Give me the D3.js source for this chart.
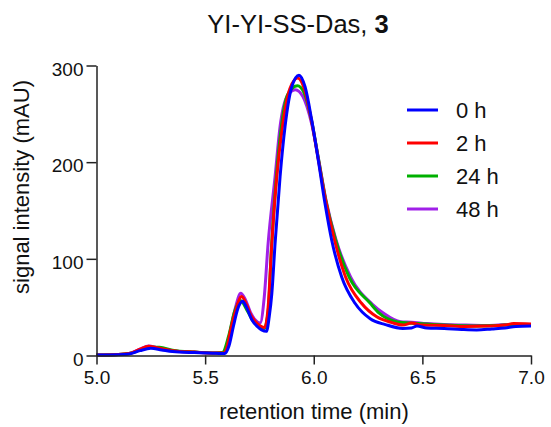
<!DOCTYPE html>
<html>
<head>
<meta charset="utf-8">
<script src="https://cdn.jsdelivr.net/npm/d3@7"></script>
<style>
  body { margin: 0; background: #fff; }
  svg { display: block; font-family: "Liberation Sans", Arial, sans-serif; }
  .axis path, .axis line { stroke: #222; stroke-width: 1.5px; }
  .axis text { fill: #111; font-size: 19px; }
</style>
</head>
<body>
<svg id="chart" width="551" height="427"></svg>
<script>
// x ticks / y ticks
const xTicks = [5.0, 5.5, 6.0, 6.5, 7.0];
const yTicks = [0, 100, 200, 300];
const labels = ['0 h', '2 h', '24 h', '48 h'];

// retention time (min) and signal (mAU)
const time0h = [5.00, 5.10, 5.15, 5.20, 5.25, 5.30, 5.35, 5.45, 5.55, 5.59, 5.61, 5.63, 5.65, 5.673, 5.69, 5.715, 5.74, 5.76, 5.782,
  5.795, 5.807, 5.822, 5.845, 5.868, 5.899, 5.932, 5.96, 5.991, 6.021, 6.052, 6.083, 6.129, 6.19, 6.26, 6.33, 6.41, 6.45, 6.475,
  6.52, 6.60, 6.68, 6.75, 6.82, 6.88, 6.93, 7.00];
const sig0h = [0.5, 0.8, 1.5, 5, 7.4, 5.8, 4.2, 3, 2.3, 2, 10, 30, 48, 56, 50, 37, 30, 26.5, 25,
  40, 64, 116, 185, 237, 278, 290, 278, 243, 202, 157, 119, 81, 54, 38, 32, 28, 28.5, 30.5,
  28.5, 28, 27, 26.5, 27.5, 28.5, 30, 30.5];

const time2h = [5.00, 5.10, 5.15, 5.20, 5.24, 5.28, 5.35, 5.45, 5.55, 5.585, 5.60, 5.616, 5.64, 5.668, 5.69, 5.71, 5.74, 5.774,
  5.79, 5.807, 5.83, 5.856, 5.89, 5.926, 5.955, 5.988, 6.02, 6.055, 6.095, 6.147, 6.22, 6.29, 6.36, 6.41, 6.45, 6.50,
  6.60, 6.70, 6.80, 6.88, 6.92, 7.00];
const sig2h = [0.5, 1, 2, 6.5, 9.5, 8, 5, 3.5, 2.5, 2.5, 8, 25, 46, 61, 53, 42, 33, 29,
  50, 116, 185, 237, 276, 287, 277, 245, 204, 160, 120, 81, 54, 40, 34, 31.5, 33.5, 31.5,
  31, 30, 30.5, 31.5, 33, 32.5];

const time24h = [5.00, 5.10, 5.15, 5.20, 5.25, 5.29, 5.35, 5.45, 5.55, 5.58, 5.608, 5.635, 5.663, 5.69, 5.72, 5.75, 5.772,
  5.79, 5.805, 5.826, 5.85, 5.88, 5.925, 5.955, 5.99, 6.022, 6.055, 6.10, 6.163, 6.26, 6.30, 6.38, 6.42, 6.48,
  6.55, 6.65, 6.75, 6.85, 6.92, 7.00];
const sig24h = [0.5, 1, 2, 5.5, 8.5, 8.5, 5.5, 3.5, 2.5, 3, 20, 45, 57, 48, 36, 30, 28,
  45, 110, 180, 235, 270, 279, 272, 243, 203, 161, 120, 81, 54, 44, 35, 34, 33,
  32, 31, 30.5, 31, 32, 32];

const time48h = [5.00, 5.10, 5.15, 5.20, 5.24, 5.28, 5.35, 5.45, 5.55, 5.585, 5.60, 5.62, 5.64, 5.664, 5.685, 5.71, 5.73, 5.753,
  5.772, 5.79, 5.822, 5.845, 5.877, 5.915, 5.95, 5.99, 6.023, 6.057, 6.102, 6.17, 6.27, 6.32, 6.40, 6.45, 6.52,
  6.60, 6.70, 6.80, 6.90, 7.00];
const sig48h = [0.5, 1, 2, 6.5, 9.8, 8, 5, 3.5, 2.5, 3, 9, 30, 50, 64.5, 58, 44, 37, 33.5,
  60, 116, 185, 237, 268, 275, 268, 240, 202, 160, 120, 81, 53, 44, 35, 34.5, 33,
  32, 31.5, 31, 32, 32];

const cs = {
  margin: { left: 96.5, right: 20, top: 65.5, bottom: 71.5 },
  palette: ['#0000ff', '#ff0000', '#00b000', '#a020e8'],
  stroke: 3,
};

const svg = d3.select('#chart');
const width = +svg.attr('width');
const height = +svg.attr('height');

const x = d3.scaleLinear().domain([5, 7]).range([cs.margin.left, width - cs.margin.right]);
const y = d3.scaleLinear().domain([0, 300]).range([height - cs.margin.bottom, cs.margin.top]);

const traces = [
  { label: labels[0], t: time0h, v: sig0h, color: cs.palette[0] },
  { label: labels[1], t: time2h, v: sig2h, color: cs.palette[1] },
  { label: labels[2], t: time24h, v: sig24h, color: cs.palette[2] },
  { label: labels[3], t: time48h, v: sig48h, color: cs.palette[3] },
];

const line = d3.line()
  .x(d => x(d[0]))
  .y(d => y(d[1]))
  .curve(d3.curveMonotoneX);

// draw 48 h first so 0 h ends up on top
svg.append('g')
  .selectAll('path')
  .data(traces.slice().reverse())
  .join('path')
  .attr('fill', 'none')
  .attr('stroke', d => d.color)
  .attr('stroke-width', cs.stroke)
  .attr('stroke-linejoin', 'round')
  .attr('d', d => line(d.t.map((t, i) => [t, d.v[i]])));

const xAxis = d3.axisBottom(x).tickValues(xTicks).tickFormat(d3.format('.1f')).tickSize(9).tickSizeOuter(0).tickPadding(6);
const yAxis = d3.axisLeft(y).tickValues(yTicks).tickSize(10).tickSizeOuter(0).tickPadding(3);

svg.append('g').attr('class', 'axis')
  .attr('transform', `translate(0,${y(0)})`)
  .call(xAxis);

svg.append('g').attr('class', 'axis')
  .attr('transform', `translate(${x(5)},0)`)
  .call(yAxis)
  .selectAll('text').attr('dy', '0.5em');

// title
const title = svg.append('text')
  .attr('x', 298)
  .attr('y', 33)
  .attr('text-anchor', 'middle')
  .attr('font-size', 25.5)
  .attr('fill', '#111');
title.append('tspan').text('YI-YI-SS-Das, ');
title.append('tspan').attr('font-weight', 'bold').text('3');

svg.append('text')
  .attr('x', 314)
  .attr('y', 419)
  .attr('text-anchor', 'middle')
  .attr('font-size', 22)
  .attr('fill', '#111')
  .text('retention time (min)');

svg.append('text')
  .attr('transform', `translate(29,187) rotate(-90)`)
  .attr('text-anchor', 'middle')
  .attr('font-size', 22)
  .attr('fill', '#111')
  .text('signal intensity (mAU)');

// legend
const legend = svg.append('g')
  .selectAll('g')
  .data(traces)
  .join('g')
  .attr('transform', (d, i) => `translate(407,${110 + i * 33})`);

legend.append('line')
  .attr('x1', 0).attr('x2', 31)
  .attr('stroke', d => d.color)
  .attr('stroke-width', cs.stroke);

legend.append('text')
  .attr('x', 49)
  .attr('dy', '0.35em')
  .attr('font-size', 22)
  .attr('fill', '#111')
  .text(d => d.label);
</script>
</body>
</html>
